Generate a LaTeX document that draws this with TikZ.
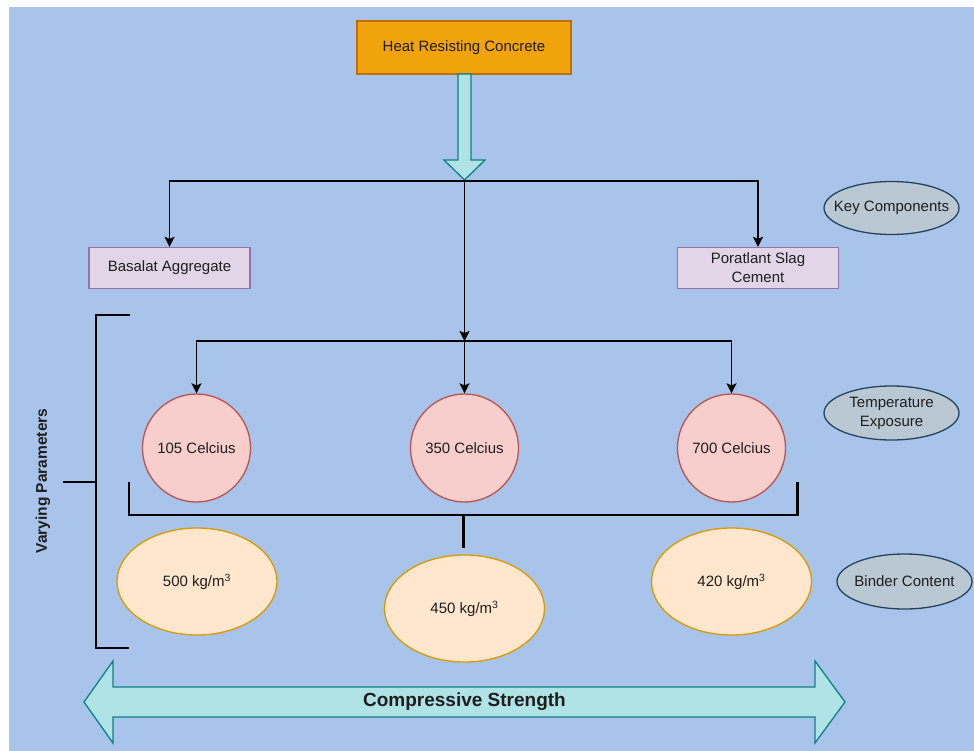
\documentclass[tikz,border=0pt]{standalone}
\usepackage{fontspec}
\setmainfont{Liberation Sans}
\usetikzlibrary{arrows.meta,shapes.geometric}
\definecolor{bgblue}{HTML}{A9C4EB}
\definecolor{heatfill}{HTML}{F0A30A}
\definecolor{heatline}{HTML}{BD7000}
\definecolor{purfill}{HTML}{E1D5E7}
\definecolor{purline}{HTML}{9673A6}
\definecolor{redfill}{HTML}{F8CECC}
\definecolor{redline}{HTML}{B85450}
\definecolor{orfill}{HTML}{FFE6CC}
\definecolor{orline}{HTML}{D79B00}
\definecolor{gbfill}{HTML}{BAC8D3}
\definecolor{gbline}{HTML}{23445D}
\definecolor{tealfill}{HTML}{B0E3E6}
\definecolor{tealline}{HTML}{0E8088}
\definecolor{txt}{HTML}{1E1E1E}
\tikzset{
  every node/.style={text=txt, font=\fontsize{15}{17}\selectfont},
  heatbox/.style={draw=heatline, fill=heatfill, line width=1.3pt, minimum width=214pt, minimum height=53pt, inner sep=0pt},
  compbox/.style={draw=purline, fill=purfill, line width=1.3pt, minimum width=161pt, minimum height=41pt, inner sep=0pt, align=center, font=\fontsize{15}{19}\selectfont},
  tempcirc/.style={circle, draw=redline, fill=redfill, line width=1.3pt, minimum size=108pt, inner sep=0pt},
  bindell/.style={ellipse, draw=orline, fill=orfill, line width=1.3pt, minimum width=160pt, minimum height=107pt, inner sep=0pt},
  legell/.style={ellipse, draw=gbline, fill=gbfill, line width=1.3pt, minimum width=135pt, minimum height=53pt, inner sep=0pt},
  legtext/.style={align=center, font=\fontsize{15}{19}\selectfont},
  conn/.style={draw=black, line width=1.7pt},
  arr/.style={conn, -{Stealth[length=10pt,width=10pt,inset=2pt]}},
  bracketline/.style={draw=black, line width=2.3pt},
  bigarrow/.style={draw=tealline, fill=tealfill, line width=1.3pt, line join=miter},
}
\begin{document}
\begin{tikzpicture}[x=1pt, y=-1pt]
\useasboundingbox (0,0) rectangle (974,751);
\fill[white] (0,0) rectangle (974,751);
\fill[bgblue] (9,7) rectangle (974,751);

% top
\node[heatbox] (heat) at (464,47.5) {Heat Resisting Concrete};
\path[bigarrow] (458,74) -- (471,74) -- (471,160) -- (485,160) -- (464.5,180) -- (444,160) -- (458,160) -- cycle;

\coordinate (split1) at (464.5,181);
\coordinate (split2) at (464.5,341);

\node[compbox] (basalt) at (169.5,268) {Basalat Aggregate};
\node[compbox] (cement) at (758,268) {Poratlant Slag\\Cement};

\draw[arr] (split1) -| (basalt.north);
\draw[arr] (split1) -| (cement.north);
\draw[arr] (split1) -- (split2);

% temperatures
\node[tempcirc] (c105) at (196.5,448) {105 Celcius};
\node[tempcirc] (c350) at (464.5,448) {350 Celcius};
\node[tempcirc] (c700) at (731.5,448) {700 Celcius};

\draw[arr] (split2) -| (c105.north);
\draw[arr] (split2) -- (c350.north);
\draw[arr] (split2) -| (c700.north);

% inner bracket
\coordinate (ibl) at (129,482);
\coordinate (ibr) at (797.5,482);
\coordinate (ibm) at (463.5,515);
\draw[bracketline] (ibl) |- (ibr |- ibm) -- (ibr);
\draw[bracketline] (ibm) -- ++(0,33);

% binder contents
\node[bindell] (b500) at (197,581.5) {500 kg/m\textsuperscript{3}};
\node[bindell] (b450) at (464.5,608.5) {450 kg/m\textsuperscript{3}};
\node[bindell] (b420) at (731.5,581.5) {420 kg/m\textsuperscript{3}};

% outer bracket
\coordinate (obt) at (130,315);
\coordinate (obb) at (129,648);
\coordinate (obm) at (96,482);
\draw[bracketline] (obt) -- (96,315) -- (96,648) -- (obb);
\draw[bracketline] (obm) -- ++(-33,0);
\node[rotate=90, font=\bfseries\fontsize{15.5}{18}\selectfont] (vary) at (43,481) {Varying Parameters};

% legends
\node[legell] (key) at (891.5,208) {};
\node[legtext] (keytext) at (key.center) {Key Components};
\node[legell, minimum height=54pt] (tempexp) at (891.5,413) {};
\node[legtext] (tempexptext) at (tempexp.center) {Temperature\\Exposure};
\node[legell, minimum height=55pt] (bind) at (904.5,581.5) {};
\node[legtext] (bindtext) at (bind.center) {Binder Content};

% compressive strength
\path[bigarrow] (84,702) -- (113,661) -- (113,687) -- (815,687) -- (815,661) -- (845,702) -- (815,743) -- (815,717) -- (113,717) -- (113,743) -- cycle;
\node[font=\bfseries\fontsize{19}{22}\selectfont] (comp) at (464.5,702) {Compressive Strength};
\end{tikzpicture}
\end{document}
